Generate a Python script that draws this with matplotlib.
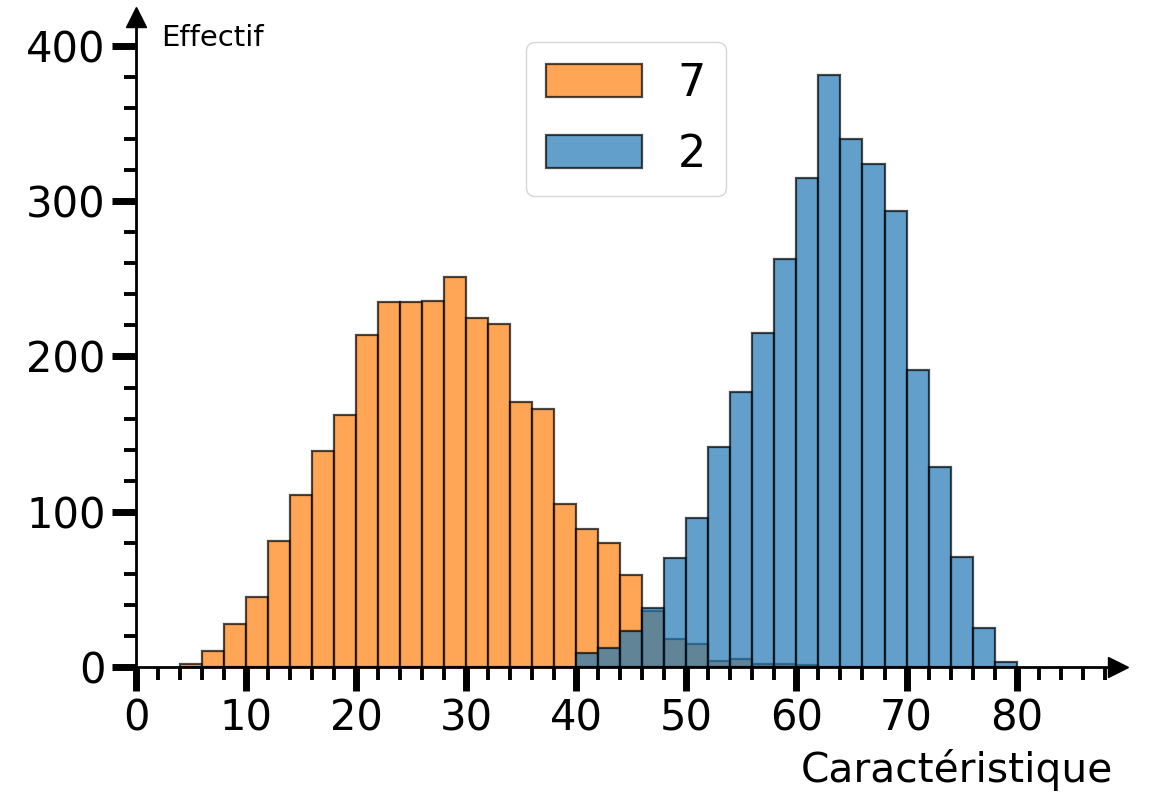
import numpy as np
import matplotlib
matplotlib.use("Agg")
import matplotlib.pyplot as plt

# bins de largeur 2
orange_start = 4
orange_counts = [2, 10, 28, 45, 81, 111, 139, 162, 214, 235, 235, 236, 251, 225, 221,
                 171, 166, 105, 89, 80, 59, 36, 18, 15, 4, 5, 2, 2, 1]
blue_start = 40
blue_counts = [9, 12, 23, 38, 70, 96, 142, 177, 215, 263, 315, 381, 340, 324, 294,
               191, 129, 71, 25, 3]
labels = ["7", "2"]

bin_width = 2
orange_edges = orange_start + bin_width * np.arange(len(orange_counts))
blue_edges = blue_start + bin_width * np.arange(len(blue_counts))

fig = plt.figure(figsize=(11.51, 7.93), dpi=100)
ax = fig.add_axes([0.1182, 0.1589, 0.853, 0.8197])

ax.bar(orange_edges, orange_counts, width=bin_width, align="edge", color="#ff7f0e",
       edgecolor="black", linewidth=1.6, alpha=0.7, label=labels[0])
ax.bar(blue_edges, blue_counts, width=bin_width, align="edge", color="#1f77b4",
       edgecolor="black", linewidth=1.6, alpha=0.7, label=labels[1])

ax.set_xlim(0, 89.2)
ax.set_ylim(0, 418.7)

# axes style : spines a zero avec fleches
for s in ["top", "right"]:
    ax.spines[s].set_visible(False)
for s in ["left", "bottom"]:
    ax.spines[s].set_linewidth(2)
    ax.spines[s].set_position(("data", 0))
ax.plot(1, 0, ">k", markersize=14, transform=ax.get_yaxis_transform(), clip_on=False)
ax.plot(0, 1, "^k", markersize=14, transform=ax.get_xaxis_transform(), clip_on=False)

ax.set_xticks(range(0, 81, 10))
ax.set_xticks(range(0, 89, 2), minor=True)
ax.set_yticks(range(0, 401, 100))
ax.set_yticks(range(0, 401, 20), minor=True)
ax.tick_params(which="major", length=17, width=5, labelsize=30, pad=5)
ax.tick_params(which="minor", length=9, width=2.8)

ax.text(0.026, 0.968, "Effectif", transform=ax.transAxes, fontsize=21, va="center", ha="left")
fig.text(0.967, 0.029, "Caractéristique", fontsize=29.3, ha="right", va="center")

ax.legend(loc="upper center", bbox_to_anchor=(0.544, 0.947), bbox_transform=fig.transFigure,
          borderaxespad=0, fontsize=32, handlelength=2.15, handleheight=0.77,
          borderpad=0.45, labelspacing=0.62)

fig.savefig("out.png", dpi=100)
